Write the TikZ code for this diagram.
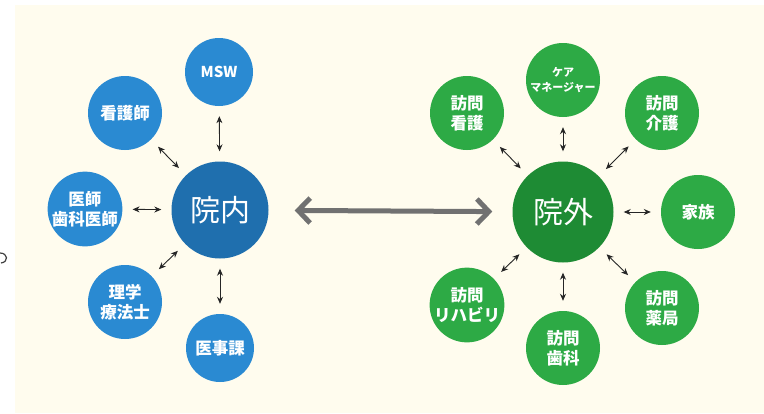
\documentclass[tikz,border=0pt]{standalone}
\usepackage{fontspec}
\newfontfamily\jp{Noto Sans CJK JP}
\usetikzlibrary{arrows.meta}
\definecolor{bg}{HTML}{FFFCEE}
\definecolor{blueout}{HTML}{2A8AD2}
\definecolor{bluein}{HTML}{1F6FAE}
\definecolor{greenout}{HTML}{2DAA45}
\definecolor{greenin}{HTML}{1E8B34}
\definecolor{arrowgray}{HTML}{717171}
\begin{document}
\begin{tikzpicture}[x=1pt,y=-1pt,
  outer/.style={circle, minimum size=74pt, inner sep=0pt, text=white, align=center,
    font=\jp\bfseries\fontsize{16.5}{20}\selectfont},
  bout/.style={outer, fill=blueout},
  gout/.style={outer, fill=greenout},
  hub/.style={circle, inner sep=0pt, text=white, font=\jp\fontsize{30}{34}\selectfont},
  biarrow/.style={{Stealth[length=7pt,width=6pt]}-{Stealth[length=7pt,width=6pt]},
    line width=0.9pt, black!85, shorten <=10pt, shorten >=10pt},
  bigarrow/.style={{Straight Barb[length=12pt,width=25pt]}-{Straight Barb[length=12pt,width=25pt]},
    line width=5pt, arrowgray}]
\useasboundingbox (0,0) rectangle (764,413);
\fill[bg] (15,5) rectangle (764,413);
\draw[line width=1.2pt, black!75] (0,253) .. controls (8,253) and (9,262) .. (1,263);

% left cluster
\node[hub, fill=bluein, minimum size=97pt] (in) at (220,210) {院内};
\node[bout, minimum size=68pt, font=\jp\bfseries\fontsize{15}{16}\selectfont] (msw) at (219,72) {MSW};
\node[bout] (kan) at (125,113) {看護師};
\node[bout] (ish) at (85,209) {医師\\歯科医師};
\node[bout] (rig) at (125,302) {理学\\療法士};
\node[bout, minimum size=68pt] (ijk) at (220,348) {医事課};

% right cluster
\node[hub, fill=greenin, minimum size=101pt] (out) at (563,212) {院外};
\node[gout, font=\jp\bfseries\fontsize{11}{15}\selectfont] (care) at (563,80) {ケア\\マネージャー};
\node[gout] (hk) at (467,113) {訪問\\看護};
\node[gout] (hkg) at (662,113) {訪問\\介護};
\node[gout] (fam) at (698,212) {家族};
\node[gout] (hy) at (662,308) {訪問\\薬局};
\node[gout] (hs) at (563,348) {訪問\\歯科};
\node[gout] (hr) at (467,305) {訪問\\リハビリ};

% connectors
\foreach \o in {msw,kan,ish,rig,ijk}{\draw[biarrow] (\o) -- (in);}
\foreach \o in {care,hk,hkg,fam,hy,hs,hr}{\draw[biarrow] (\o) -- (out);}
\draw[bigarrow, shorten <=26pt, shorten >=20pt] (in) -- (out);
\end{tikzpicture}
\end{document}
